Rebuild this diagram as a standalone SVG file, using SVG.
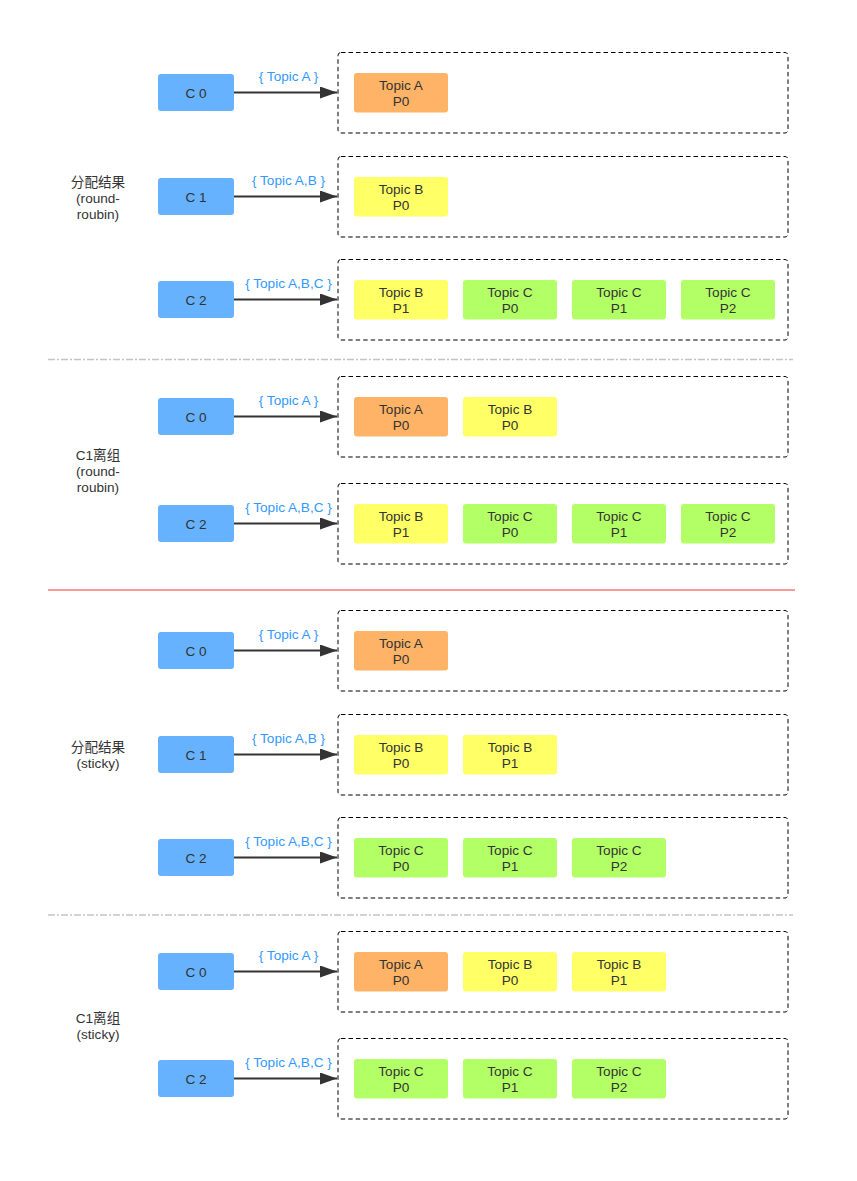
<svg xmlns="http://www.w3.org/2000/svg" width="857" height="1181" viewBox="0 0 857 1181">
<defs>
<marker id="ah" markerUnits="userSpaceOnUse" markerWidth="18" markerHeight="12" refX="17" refY="6" orient="auto"><path d="M0,0 L17,6 L0,12 Z" fill="#333"/></marker>
</defs>
<style>
text{font-family:"Liberation Sans","Noto Sans CJK SC",sans-serif;font-size:13.6px;fill:#333;text-anchor:middle}
.lbl{fill:#3399ff}
.c{fill:#66b2ff}
.grp{fill:none;stroke:#000;stroke-width:1;stroke-dasharray:4.5 3}
.o{fill:#ffb366}.y{fill:#ffff66}.g{fill:#b3ff66}
.arr{stroke:#333;stroke-width:2;fill:none}
.div{stroke:#c4c4c4;stroke-width:1.5;stroke-dasharray:7 2 2 2}
</style>
<rect width="857" height="1181" fill="#fff"/>
<g id="separators">
<line class="div" x1="48" y1="359.5" x2="793" y2="359.5"/>
<line x1="48" y1="590" x2="795" y2="590" stroke="#ff9999" stroke-width="2"/>
<line class="div" x1="48" y1="915" x2="793" y2="915"/>
</g>
<g id="section-labels">
<text x="98" y="187">分配结果</text><text x="98" y="203">(round-</text><text x="98" y="219">roubin)</text>
<text x="98" y="460">C1离组</text><text x="98" y="476">(round-</text><text x="98" y="492">roubin)</text>
<text x="98" y="752">分配结果</text><text x="98" y="768">(sticky)</text>
<text x="98" y="1023">C1离组</text><text x="98" y="1039">(sticky)</text>
</g>
<g id="connectors">
<line class="arr" x1="234" y1="92.5" x2="337" y2="92.5" marker-end="url(#ah)"/>
<line class="arr" x1="234" y1="196.5" x2="337" y2="196.5" marker-end="url(#ah)"/>
<line class="arr" x1="234" y1="299.5" x2="337" y2="299.5" marker-end="url(#ah)"/>
<line class="arr" x1="234" y1="416.5" x2="337" y2="416.5" marker-end="url(#ah)"/>
<line class="arr" x1="234" y1="523.5" x2="337" y2="523.5" marker-end="url(#ah)"/>
<line class="arr" x1="234" y1="650.5" x2="337" y2="650.5" marker-end="url(#ah)"/>
<line class="arr" x1="234" y1="754.5" x2="337" y2="754.5" marker-end="url(#ah)"/>
<line class="arr" x1="234" y1="857.5" x2="337" y2="857.5" marker-end="url(#ah)"/>
<line class="arr" x1="234" y1="971.5" x2="337" y2="971.5" marker-end="url(#ah)"/>
<line class="arr" x1="234" y1="1078.5" x2="337" y2="1078.5" marker-end="url(#ah)"/>
<text class="lbl" x="288.5" y="81">{ Topic A }</text>
<text class="lbl" x="288.5" y="185">{ Topic A,B }</text>
<text class="lbl" x="288.5" y="288">{ Topic A,B,C }</text>
<text class="lbl" x="288.5" y="405">{ Topic A }</text>
<text class="lbl" x="288.5" y="512">{ Topic A,B,C }</text>
<text class="lbl" x="288.5" y="639">{ Topic A }</text>
<text class="lbl" x="288.5" y="743">{ Topic A,B }</text>
<text class="lbl" x="288.5" y="846">{ Topic A,B,C }</text>
<text class="lbl" x="288.5" y="960">{ Topic A }</text>
<text class="lbl" x="288.5" y="1067">{ Topic A,B,C }</text>
</g>
<g id="row1">
<rect class="c" x="158" y="74" width="76" height="37" rx="3"/><text x="196" y="97.5">C 0</text>
<rect class="grp" x="338" y="52.5" width="450" height="80.5" rx="3"/>
<rect class="o" x="354" y="73" width="94" height="39.5" rx="3"/><text x="401" y="90">Topic A</text><text x="401" y="106">P0</text>
</g>
<g id="row2">
<rect class="c" x="158" y="178" width="76" height="37" rx="3"/><text x="196" y="201.5">C 1</text>
<rect class="grp" x="338" y="156.5" width="450" height="80.5" rx="3"/>
<rect class="y" x="354" y="177" width="94" height="39.5" rx="3"/><text x="401" y="194">Topic B</text><text x="401" y="210">P0</text>
</g>
<g id="row3">
<rect class="c" x="158" y="281" width="76" height="37" rx="3"/><text x="196" y="304.5">C 2</text>
<rect class="grp" x="338" y="259.5" width="450" height="80.5" rx="3"/>
<rect class="y" x="354" y="280" width="94" height="39.5" rx="3"/><text x="401" y="297">Topic B</text><text x="401" y="313">P1</text>
<rect class="g" x="463" y="280" width="94" height="39.5" rx="3"/><text x="510" y="297">Topic C</text><text x="510" y="313">P0</text>
<rect class="g" x="572" y="280" width="94" height="39.5" rx="3"/><text x="619" y="297">Topic C</text><text x="619" y="313">P1</text>
<rect class="g" x="681" y="280" width="94" height="39.5" rx="3"/><text x="728" y="297">Topic C</text><text x="728" y="313">P2</text>
</g>
<g id="row4">
<rect class="c" x="158" y="398" width="76" height="37" rx="3"/><text x="196" y="421.5">C 0</text>
<rect class="grp" x="338" y="376.5" width="450" height="80.5" rx="3"/>
<rect class="o" x="354" y="397" width="94" height="39.5" rx="3"/><text x="401" y="414">Topic A</text><text x="401" y="430">P0</text>
<rect class="y" x="463" y="397" width="94" height="39.5" rx="3"/><text x="510" y="414">Topic B</text><text x="510" y="430">P0</text>
</g>
<g id="row5">
<rect class="c" x="158" y="505" width="76" height="37" rx="3"/><text x="196" y="528.5">C 2</text>
<rect class="grp" x="338" y="483.5" width="450" height="80.5" rx="3"/>
<rect class="y" x="354" y="504" width="94" height="39.5" rx="3"/><text x="401" y="521">Topic B</text><text x="401" y="537">P1</text>
<rect class="g" x="463" y="504" width="94" height="39.5" rx="3"/><text x="510" y="521">Topic C</text><text x="510" y="537">P0</text>
<rect class="g" x="572" y="504" width="94" height="39.5" rx="3"/><text x="619" y="521">Topic C</text><text x="619" y="537">P1</text>
<rect class="g" x="681" y="504" width="94" height="39.5" rx="3"/><text x="728" y="521">Topic C</text><text x="728" y="537">P2</text>
</g>
<g id="row6">
<rect class="c" x="158" y="632" width="76" height="37" rx="3"/><text x="196" y="655.5">C 0</text>
<rect class="grp" x="338" y="610.5" width="450" height="80.5" rx="3"/>
<rect class="o" x="354" y="631" width="94" height="39.5" rx="3"/><text x="401" y="648">Topic A</text><text x="401" y="664">P0</text>
</g>
<g id="row7">
<rect class="c" x="158" y="736" width="76" height="37" rx="3"/><text x="196" y="759.5">C 1</text>
<rect class="grp" x="338" y="714.5" width="450" height="80.5" rx="3"/>
<rect class="y" x="354" y="735" width="94" height="39.5" rx="3"/><text x="401" y="752">Topic B</text><text x="401" y="768">P0</text>
<rect class="y" x="463" y="735" width="94" height="39.5" rx="3"/><text x="510" y="752">Topic B</text><text x="510" y="768">P1</text>
</g>
<g id="row8">
<rect class="c" x="158" y="839" width="76" height="37" rx="3"/><text x="196" y="862.5">C 2</text>
<rect class="grp" x="338" y="817.5" width="450" height="80.5" rx="3"/>
<rect class="g" x="354" y="838" width="94" height="39.5" rx="3"/><text x="401" y="855">Topic C</text><text x="401" y="871">P0</text>
<rect class="g" x="463" y="838" width="94" height="39.5" rx="3"/><text x="510" y="855">Topic C</text><text x="510" y="871">P1</text>
<rect class="g" x="572" y="838" width="94" height="39.5" rx="3"/><text x="619" y="855">Topic C</text><text x="619" y="871">P2</text>
</g>
<g id="row9">
<rect class="c" x="158" y="953" width="76" height="37" rx="3"/><text x="196" y="976.5">C 0</text>
<rect class="grp" x="338" y="931.5" width="450" height="80.5" rx="3"/>
<rect class="o" x="354" y="952" width="94" height="39.5" rx="3"/><text x="401" y="969">Topic A</text><text x="401" y="985">P0</text>
<rect class="y" x="463" y="952" width="94" height="39.5" rx="3"/><text x="510" y="969">Topic B</text><text x="510" y="985">P0</text>
<rect class="y" x="572" y="952" width="94" height="39.5" rx="3"/><text x="619" y="969">Topic B</text><text x="619" y="985">P1</text>
</g>
<g id="row10">
<rect class="c" x="158" y="1060" width="76" height="37" rx="3"/><text x="196" y="1083.5">C 2</text>
<rect class="grp" x="338" y="1038.5" width="450" height="80.5" rx="3"/>
<rect class="g" x="354" y="1059" width="94" height="39.5" rx="3"/><text x="401" y="1076">Topic C</text><text x="401" y="1092">P0</text>
<rect class="g" x="463" y="1059" width="94" height="39.5" rx="3"/><text x="510" y="1076">Topic C</text><text x="510" y="1092">P1</text>
<rect class="g" x="572" y="1059" width="94" height="39.5" rx="3"/><text x="619" y="1076">Topic C</text><text x="619" y="1092">P2</text>
</g>
</svg>
